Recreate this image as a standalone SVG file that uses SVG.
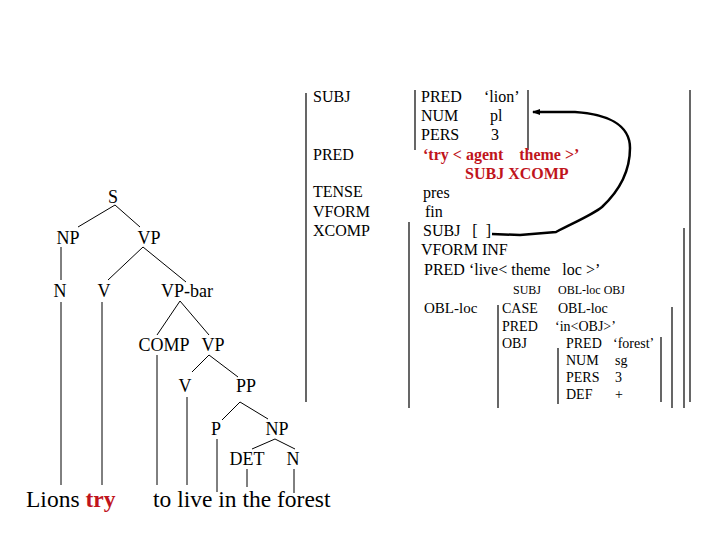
<svg xmlns="http://www.w3.org/2000/svg" width="720" height="540" viewBox="0 0 720 540">
<style>
text{font-family:"Liberation Serif","Times New Roman",serif;fill:#000}
.t{font-size:18px;text-anchor:middle}
.w{font-size:23.5px}
.f{font-size:16px}
.g{font-size:14px}
.s{font-size:12px}
.r{fill:#c0141c;font-weight:bold;font-size:16px}
.l line{stroke:#000;stroke-width:1}
.b line{stroke:#000;stroke-width:1.2}
</style>
<defs>
<marker id="ah" markerWidth="8" markerHeight="8" refX="7" refY="4" orient="auto" markerUnits="userSpaceOnUse">
<path d="M0,1 L8,4 L0,7 Z" fill="#000"/>
</marker>
</defs>
<rect width="720" height="540" fill="#fff"/>
<g id="connectors" class="l">
<line x1="115" y1="205" x2="78" y2="227"/>
<line x1="115" y1="205" x2="140" y2="227"/>
<line x1="61" y1="247" x2="61" y2="280"/>
<line x1="143" y1="247" x2="108" y2="280"/>
<line x1="143" y1="247" x2="186" y2="282"/>
<line x1="61" y1="302" x2="61" y2="485"/>
<line x1="102" y1="302" x2="102" y2="485"/>
<line x1="180" y1="301" x2="157" y2="335"/>
<line x1="180" y1="301" x2="209" y2="335"/>
<line x1="157" y1="355" x2="157" y2="485"/>
<line x1="209" y1="355" x2="192" y2="372"/>
<line x1="209" y1="355" x2="238" y2="377"/>
<line x1="187" y1="397" x2="187" y2="485"/>
<line x1="240" y1="402" x2="222" y2="420"/>
<line x1="240" y1="402" x2="268" y2="419"/>
<line x1="217" y1="439" x2="217" y2="492"/>
<line x1="275" y1="439" x2="252" y2="449"/>
<line x1="275" y1="439" x2="295" y2="449"/>
<line x1="247" y1="469" x2="247" y2="487"/>
<line x1="294" y1="469" x2="294" y2="493"/>
<path d="M492,234 L520,235 L556,232 C575,222 592,215 602,207 C618,192 630,172 630,148 C630,124 606,114 575,112 L533,112" fill="none" stroke="#000" stroke-width="2.5" marker-end="url(#ah)"/>
</g>
<g id="tree">
<g id="n-S"><text class="t" x="113" y="203">S</text></g>
<g id="n-NP1"><text class="t" x="68" y="244">NP</text></g>
<g id="n-VP1"><text class="t" x="149" y="244">VP</text></g>
<g id="n-N1"><text class="t" x="60" y="297">N</text></g>
<g id="n-V1"><text class="t" x="104" y="297">V</text></g>
<g id="n-VPbar"><text class="t" x="187" y="297">VP-bar</text></g>
<g id="n-COMP"><text class="t" x="164" y="351">COMP</text></g>
<g id="n-VP2"><text class="t" x="213" y="351">VP</text></g>
<g id="n-V2"><text class="t" x="185" y="392">V</text></g>
<g id="n-PP"><text class="t" x="246" y="392">PP</text></g>
<g id="n-P"><text class="t" x="216" y="435">P</text></g>
<g id="n-NP2"><text class="t" x="277" y="435">NP</text></g>
<g id="n-DET"><text class="t" x="247" y="465">DET</text></g>
<g id="n-N2"><text class="t" x="293" y="465">N</text></g>
<g id="words"><text class="w" x="26" y="507">Lions <tspan fill="#c0141c" font-weight="bold">try</tspan></text>
<text class="w" x="153" y="507">to live in the forest</text></g>
</g>
<g id="fstructure">
<g id="brackets" class="b">
<line x1="306" y1="93" x2="306" y2="402"/>
<line x1="690" y1="90" x2="690" y2="402"/>
<line x1="415" y1="90" x2="415" y2="150"/>
<line x1="528" y1="90" x2="528" y2="150"/>
<line x1="409" y1="222" x2="409" y2="408"/>
<line x1="684" y1="228" x2="684" y2="408"/>
<line x1="498" y1="305" x2="498" y2="408"/>
<line x1="672" y1="307" x2="672" y2="408"/>
<line x1="558" y1="348" x2="558" y2="404"/>
<line x1="661" y1="337" x2="661" y2="402"/>
</g>
<g id="f-main" class="f">
<text x="313" y="102">SUBJ</text>
<text x="313" y="160">PRED</text>
<text x="313" y="197">TENSE</text>
<text x="313" y="217">VFORM</text>
<text x="313" y="236">XCOMP</text>
</g>
<g id="f-subj" class="f">
<text x="421" y="102">PRED</text><text x="484" y="102">‘lion’</text>
<text x="421" y="121">NUM</text><text x="490" y="121">pl</text>
<text x="421" y="140">PERS</text><text x="491" y="140">3</text>
</g>
<g id="f-pred">
<text class="r" x="423" y="160" xml:space="preserve">‘try &lt; agent    theme &gt;’</text>
<text class="r" x="465" y="179">SUBJ XCOMP</text>
</g>
<g id="f-xcomp" class="f">
<text x="423" y="198">pres</text>
<text x="425" y="217">fin</text>
<text x="423" y="236" xml:space="preserve">SUBJ   [  ]</text>
<text x="421" y="255">VFORM INF</text>
<text x="424" y="275" xml:space="preserve">PRED ‘live&lt; theme   loc &gt;’</text>
<text class="s" x="513" y="294">SUBJ</text>
<text class="s" x="558" y="294">OBL-loc OBJ</text>
</g>
<g id="f-obl" class="g">
<text x="424" y="313" font-size="15">OBL-loc</text>
<text x="502" y="313">CASE</text><text x="558" y="313">OBL-loc</text>
<text x="502" y="331">PRED</text><text x="555" y="331">‘in&lt;OBJ&gt;’</text>
<text x="502" y="348">OBJ</text>
</g>
<g id="f-obj" class="g">
<text x="566" y="348">PRED</text><text x="613" y="348">‘forest’</text>
<text x="566" y="365">NUM</text><text x="615" y="365">sg</text>
<text x="566" y="382">PERS</text><text x="615" y="382">3</text>
<text x="566" y="399">DEF</text><text x="615" y="399">+</text>
</g>
</g>
</svg>
